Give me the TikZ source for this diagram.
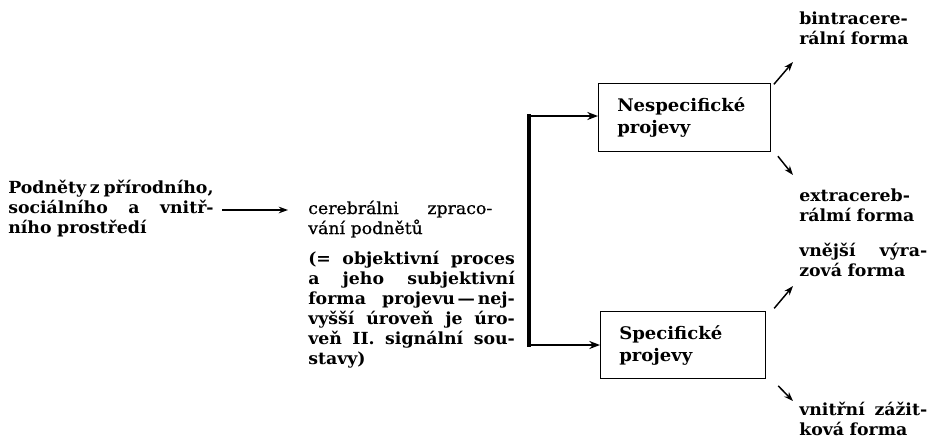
\documentclass[tikz,border=0pt]{standalone}
\usepackage{fontspec}
\setmainfont{DejaVu Serif}[FakeStretch=1.04]
\newfontfamily\medfont{DejaVu Serif}[FakeStretch=1.04, FakeBold=0.7]
\usetikzlibrary{arrows.meta}
\newlength\wL \setlength\wL{154pt}
\newlength\wA \setlength\wA{138pt}
\newlength\wM \setlength\wM{155pt}
\newlength\wR \setlength\wR{96pt}
\newcommand\jl[2]{\leavevmode\hbox to #1{#2}}
\begin{document}
\begin{tikzpicture}[x=0.75pt,y=-0.75pt,
  txt/.style={inner sep=0pt, anchor=base west, align=left,
    font=\fontsize{12.5pt}{15pt}\selectfont\bfseries},
  lab/.style={txt, text width=\wR, font=\fontsize{12.5pt}{15.5pt}\selectfont\bfseries},
  conn/.style={line width=1.1pt, -{Stealth[length=7pt,width=5pt]}},
  fork/.style={line width=1.6pt, -{Stealth[length=8pt,width=6pt]}},
  bar/.style={line width=3pt},
  box/.style={draw, line width=0.9pt, inner xsep=14pt, inner ysep=0pt, align=left,
    font=\fontsize{13pt}{16.5pt}\selectfont\bfseries}]
\useasboundingbox (0,0) rectangle (939,446);

% left source text
\node[txt, text width=\wL] (src) at (8,193)
  {\jl\wL{Podněty\hfill z\hfill přírodního,}\\
   \jl\wL{sociálního\hfill a\hfill vnitř-}\\
   ního prostředí};

% middle text
\node[txt, text width=\wA, font=\fontsize{12.5pt}{15pt}\selectfont\medfont] (midA) at (308,214)
  {\jl\wA{cerebrálni\hfill zpraco-}\\
   vání podnětů};
\node[txt, text width=\wM] (midB) at (308,264)
  {\jl\wM{(=\hfill objektivní\hfill proces}\\
   \jl\wM{a\hfill jeho\hfill subjektivní}\\
   \jl\wM{forma\hfill projevu\,—\,nej-}\\
   \jl\wM{vyšší\hfill úroveň\hfill je\hfill úro-}\\
   \jl\wM{veň\hfill II.\hfill signální\hfill sou-}\\
   stavy)};

% arrow source -> middle
\coordinate (a1) at (222,210);
\draw[conn, shorten >=15pt] (a1) -- (a1 -| midA.west);

% boxes
\node[box, anchor=north west, text width=101pt, minimum height=51pt] (box1) at (598,83)
  {Nespecifické\\projevy};
\node[box, anchor=north west, text width=95.75pt, minimum height=50.25pt] (box2) at (600,311)
  {Specifické\\projevy};

% fork
\coordinate (vt) at (529,116);
\coordinate (vb) at (529,345);
\draw[bar] ([yshift=1.2pt]vt) -- ([yshift=-1.2pt]vb);
\draw[fork] (vt) -- (vt -| box1.west);
\draw[fork] (vb) -- (vb -| box2.west);

% right labels
\node[lab] (l1) at (799,24) {bintracere-\\rální forma};
\node[lab] (l2) at (799,201) {extracereb-\\rálmí forma};
\node[lab] (l3) at (799,256) {\jl\wR{vnější\hfill výra-}\\zová forma};
\node[lab] (l4) at (799,415) {\jl\wR{vnitřní\hfill zážit-}\\ková forma};

% diagonal arrows
\coordinate (t1) at (793,62);
\coordinate (t2) at (793,175);
\coordinate (t3) at (793,286);
\coordinate (t4) at (793,401);
\draw[conn] ([shift={(2pt,-1pt)}]box1.north east) -- (t1);
\draw[conn] ([shift={(5pt,-3pt)}]box1.south east) -- (t2);
\draw[conn] ([shift={(6pt,2pt)}]box2.north east) -- (t3);
\draw[conn] ([shift={(9pt,-5pt)}]box2.south east) -- (t4);
\end{tikzpicture}
\end{document}
